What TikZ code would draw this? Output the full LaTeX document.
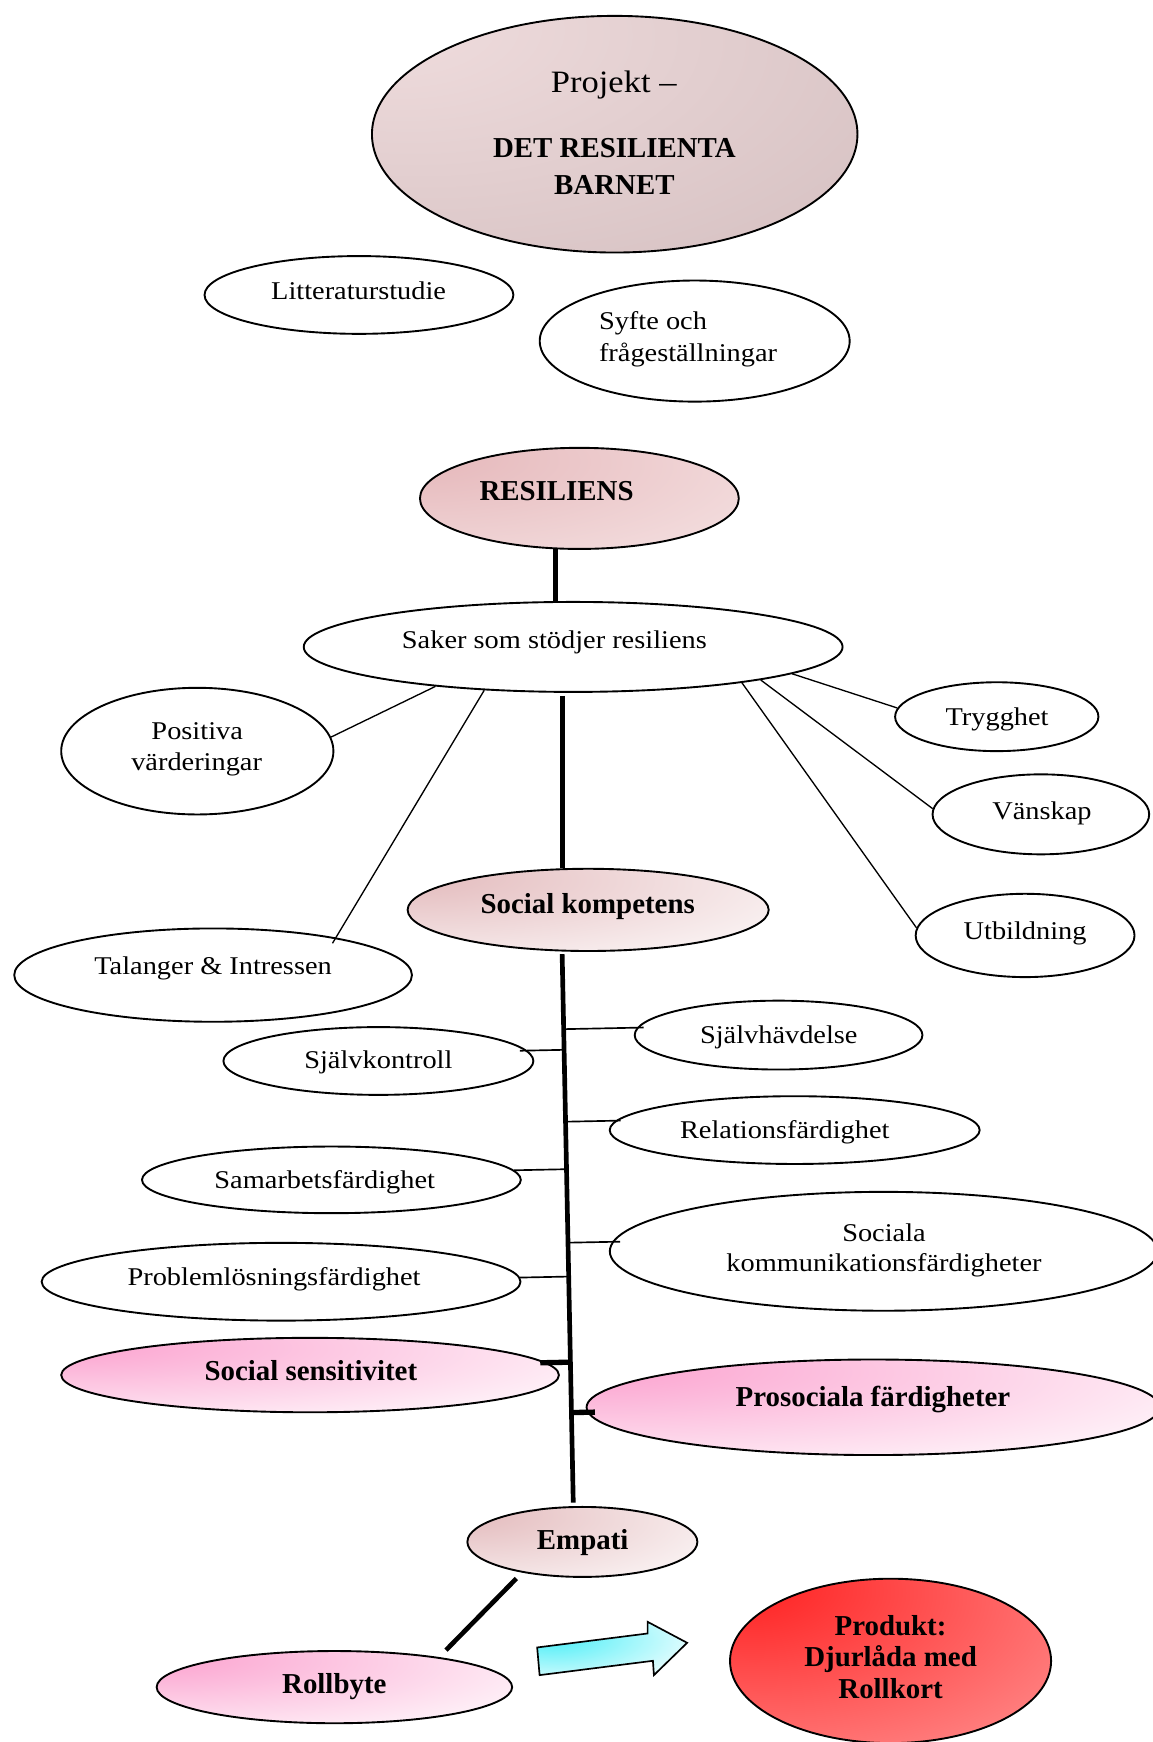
\documentclass[tikz,border=0pt]{standalone}
\usepackage{fontspec}
\setmainfont{Liberation Serif}[FakeStretch=1.11]
\newfontfamily\bfnt{Liberation Serif}
\usetikzlibrary{shapes.geometric,calc}
\definecolor{mauveA}{HTML}{F0DDDE}
\definecolor{mauveB}{HTML}{C8B2B3}
\definecolor{roseA}{HTML}{E5B6B9}
\definecolor{roseB}{HTML}{F9EEEE}
\definecolor{blushA}{HTML}{E2B8BA}
\definecolor{pinkA}{HTML}{FB9ECD}
\definecolor{redA}{HTML}{FF1C1C}
\definecolor{redB}{HTML}{FF8080}
\definecolor{cyanA}{HTML}{44EEF7}
\pgfdeclareradialshading{mauveglow}{\pgfpoint{-25bp}{25bp}}{color(0bp)=(mauveA); color(85bp)=(mauveB); color(140bp)=(mauveB)}
\pgfdeclareradialshading{roseglow}{\pgfpoint{-28bp}{22bp}}{color(0bp)=(roseA); color(75bp)=(roseB); color(140bp)=(roseB)}
\pgfdeclareradialshading{blushglow}{\pgfpoint{-28bp}{22bp}}{color(0bp)=(blushA); color(62bp)=(white); color(140bp)=(white)}
\pgfdeclareradialshading{pinkglow}{\pgfpoint{-28bp}{22bp}}{color(0bp)=(pinkA); color(58bp)=(white); color(140bp)=(white)}
\pgfdeclareradialshading{redglow}{\pgfpoint{-25bp}{25bp}}{color(0bp)=(redA); color(50bp)=(redB); color(140bp)=(redB)}
\pgfdeclareradialshading{cyanglow}{\pgfpoint{-22bp}{12bp}}{color(0bp)=(cyanA); color(50bp)=(white); color(140bp)=(white)}
\tikzset{
  ell/.style 2 args={ellipse, draw=black, line width=1.7pt, inner sep=0pt,
    minimum width=#1pt, minimum height=#2pt},
  rg/.style={inner sep=0pt, anchor=base, font=\fontsize{23}{29}\selectfont},
  bd/.style={inner sep=0pt, anchor=base, font=\bfnt\bfseries\fontsize{26}{31}\selectfont},
  thk/.style={line width=4.2pt},
  thn/.style={line width=1.2pt},
  br/.style={line width=1.5pt},
  brthk/.style={line width=4.8pt}
}
\begin{document}
\begin{tikzpicture}[x=1pt,y=-1pt]
\useasboundingbox (0,0) rectangle (1037.2,1568);
% ellipses
\node[ell={437}{213}, shade, shading=mauveglow] (top) at (553.3,120.8) {};
\node[ell={278}{70}] (lit) at (323.1,265.5) {};
\node[ell={279}{109}] (syf) at (625.3,307) {};
\node[ell={287}{91}, shade, shading=roseglow] (res) at (521.5,448.6) {};
\node[ell={485}{81}] (sak) at (515.9,582.3) {};
\node[ell={245}{114}] (pos) at (177.6,676.1) {};
\node[ell={183}{62}] (try) at (897.2,645.1) {};
\node[ell={195}{72}] (van) at (936.9,733) {};
\node[ell={325}{74}, shade, shading=blushglow] (sk) at (529.4,819) {};
\node[ell={197}{75}] (utb) at (922.7,842) {};
\node[ell={358}{84}] (tal) at (191.8,877.7) {};
\node[ell={259}{62}] (sjh) at (700.8,931.7) {};
\node[ell={279}{61}] (sjk) at (340.6,955) {};
\node[ell={333}{61}] (rel) at (715.3,1017.2) {};
\node[ell={341}{60}] (sam) at (298.3,1062) {};
\node[ell={493}{107}] (sok) at (795.4,1126.3) {};
\node[ell={431}{70}] (prob) at (253,1153.7) {};
\node[ell={448}{67}, shade, shading=pinkglow] (ss) at (279.1,1237.7) {};
\node[ell={516}{86}, shade, shading=pinkglow] (pro) at (786,1266.7) {};
\node[ell={207}{63}, shade, shading=blushglow] (emp) at (524.2,1387.9) {};
\node[ell={320}{65}, shade, shading=pinkglow] (rol) at (301,1518.6) {};
\node[ell={289}{148}, shade, shading=redglow] (prd) at (801.6,1495) {};
% connectors
\draw[thk] (res.245) -- (res.245 |- sak.north);
\path ([xshift=-9.3pt,yshift=-2.7pt]sak.south) coordinate (j1);
\draw[thk] (j1) -- (j1 |- sk.north);
\draw[thn] (sak.196) -- (pos.6);
\draw[thn, shorten >=-6pt] (sak.206) -- (tal.17);
\draw[thn] (sak.-7) -- (try.175);
\draw[thn] (sak.-10) -- (van.177);
\draw[thn] (sak.-12) -- (utb.176);
\path ([xshift=-23.4pt,yshift=-2pt]sk.south) coordinate (spT);
\path ([xshift=-8.2pt,yshift=3pt]emp.north) coordinate (spB);
\draw[thk] (spT) -- (spB);
\draw[br, shorten <=-6pt] (sjh.177) -- ($(spT)!(sjh.177)!(spB)$);
\draw[br, shorten <=-6.5pt] (sjk.4) -- ($(spT)!(sjk.4)!(spB)$);
\draw[br, shorten <=-4.4pt] (rel.177) -- ($(spT)!(rel.177)!(spB)$);
\draw[br] (sam.3) -- ($(spT)!(sam.3)!(spB)$);
\draw[br, shorten <=-7pt] (sok.178) -- ($(spT)!(sok.178)!(spB)$);
\draw[br] (prob.1) -- ($(spT)!(prob.1)!(spB)$);
\draw[brthk, shorten <=-5.5pt] (ss.3) -- ($(spT)!(ss.3)!(spB)$);
\draw[brthk, shorten <=-7pt] (pro.181) -- ($(spT)!(pro.181)!(spB)$);
\draw[thk, shorten <=7.4pt, shorten >=8.8pt] (emp.207) -- (rol.16);
% block arrow
\draw[line width=1.5pt, shade, shading=cyanglow] (483.5,1482.9) -- (582.9,1470.3) -- (582.9,1459.8) -- (618.5,1478.7) -- (588.6,1507.8) -- (587.7,1494.9) -- (485.7,1507.8) -- cycle;
% texts
\node[rg, font=\fontsize{28}{34}\selectfont] (t1) at (552.4,83.1) {Projekt –};
\node[bd] (t2) at (553,141.6) {DET RESILIENTA};
\node[bd] (t3) at (553,175.5) {BARNET};
\node[rg] (t4) at (322.8,270) {Litteraturstudie};
\node[rg, anchor=base west] (t5) at (539,297) {Syfte och};
\node[rg, anchor=base west] (t6) at (539,325.6) {frågeställningar};
\node[bd] (t7) at (501,450.3) {RESILIENS};
\node[rg] (t8) at (499,583.3) {Saker som stödjer resiliens};
\node[rg] (t9) at (177.5,666) {Positiva};
\node[rg] (t10) at (177,693.6) {värderingar};
\node[rg] (t11) at (897.5,652.9) {Trygghet};
\node[rg] (t12) at (937.9,738) {Vänskap};
\node[bd] (t13) at (529,822) {Social kompetens};
\node[rg] (t14) at (922.7,845.8) {Utbildning};
\node[rg] (t15) at (191.8,876.8) {Talanger \& Intressen};
\node[rg] (t16) at (701,939.2) {Självhävdelse};
\node[rg] (t17) at (340.6,961.7) {Självkontroll};
\node[rg] (t18) at (706.4,1024.7) {Relationsfärdighet};
\node[rg] (t19) at (292.3,1069.7) {Samarbetsfärdighet};
\node[rg] (t20) at (795.7,1117.7) {Sociala};
\node[rg] (t21) at (795.7,1144.7) {kommunikationsfärdigheter};
\node[rg] (t22) at (246.7,1156.7) {Problemlösningsfärdighet};
\node[bd] (t23) at (279.8,1242.8) {Social sensitivitet};
\node[bd] (t24) at (785.8,1266.3) {Prosociala färdigheter};
\node[bd] (t25) at (524.5,1394.7) {Empati};
\node[bd] (t26) at (300.9,1524.3) {Rollbyte};
\node[bd] (t27) at (801.6,1471.8) {Produkt:};
\node[bd] (t28) at (801.6,1499.7) {Djurlåda med};
\node[bd] (t29) at (801.6,1528.8) {Rollkort};
\end{tikzpicture}
\end{document}
